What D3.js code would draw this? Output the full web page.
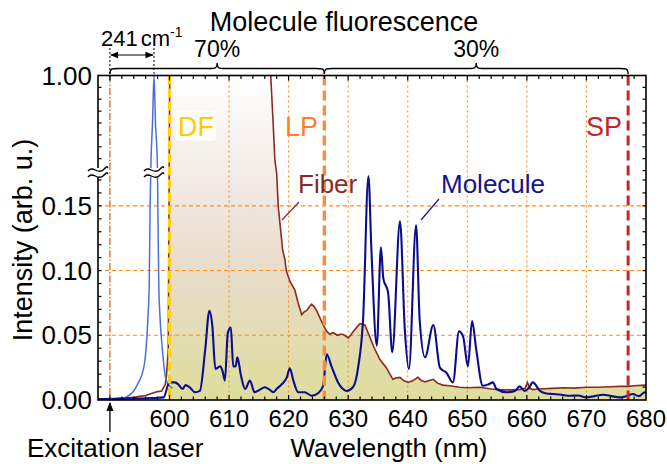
<!DOCTYPE html>
<html><head><meta charset="utf-8">
<script src="https://cdn.jsdelivr.net/npm/d3@7"></script>
<style>body{margin:0;background:#fff}svg{display:block;font-family:"Liberation Sans",Arial,sans-serif}</style>
</head><body><svg id="c" width="667" height="464"></svg>
<script>
// ---------- data ----------
const xTicks = [600, 610, 620, 630, 640, 650, 660, 670, 680];
const yTicks = [0, 0.05, 0.10, 0.15, 1.00];
const yTickLabels = ["0.00", "0.05", "0.10", "0.15", "1.00"];
const gridX = [610, 620, 630, 640, 650, 660, 670];
const gridY = [0.05, 0.10, 0.15];
const excitationWl = 590;
const laserPeakWl = 597.4;
const filterDF = 600, filterLP = 626, filterSP = 677;

const laserWl = [588, 590, 592, 593, 594, 594.8, 595.4, 595.9, 596.2, 596.4, 596.6, 596.75, 596.9, 597.15, 597.4, 597.65, 597.95, 598.05, 598.2, 598.4, 598.7, 598.95, 599.4, 600, 600.5];
const laserI  = [0, 0, 0.001, 0.003, 0.007, 0.0136, 0.02, 0.0315, 0.048, 0.065, 0.09, 0.15, 0.285, 0.6, 1.0, 0.6, 0.285, 0.15, 0.09, 0.065, 0.045, 0.0315, 0.016, 0.011, 0.009];

const fiberWl = [588, 590, 592, 594, 595, 596, 597, 598, 598.7, 599.3, 599.5, 599.8, 599.95, 600.1, 616.8, 617.0, 617.4, 617.7, 618.0, 618.25, 618.8, 619.0, 619.4, 619.6, 620.2, 621.05, 621.6, 622.2, 622.6, 623.0, 623.5, 623.86, 624.3, 624.7, 625.2, 625.8, 626.4, 626.9, 627.5, 628.2, 628.9, 629.4, 630.0, 630.4, 630.8, 631.4, 632.0, 632.8, 633.6, 634.4, 635.3, 636.4, 637.0, 637.5, 638.0, 638.7, 639.3, 640.1, 640.9, 641.7, 642.3, 642.9, 643.6, 644.3, 645.0, 645.9, 647.0, 648.7, 650, 652.1, 654, 655.4, 657, 658.8, 659.7, 660.1, 660.5, 661, 662, 664.3, 666, 668, 670, 672, 674, 675.6, 677, 678, 679.8, 680];
const fiberI  = [0.0005, 0.0008, 0.0015, 0.002, 0.0028, 0.0035, 0.005, 0.0065, 0.007, 0.012, 0.019, 0.039, 0.2, 1.5, 1.5, 1.0, 0.6, 0.285, 0.175, 0.15, 0.125, 0.116, 0.108, 0.10, 0.092, 0.085, 0.075, 0.066, 0.068, 0.069, 0.072, 0.074, 0.072, 0.069, 0.064, 0.058, 0.053, 0.051, 0.052, 0.050, 0.051, 0.05, 0.048, 0.050, 0.0525, 0.056, 0.059, 0.058, 0.049, 0.040, 0.0315, 0.025, 0.02, 0.016, 0.017, 0.0175, 0.015, 0.0136, 0.015, 0.0175, 0.015, 0.014, 0.015, 0.016, 0.013, 0.0115, 0.011, 0.0098, 0.0095, 0.0098, 0.0085, 0.008, 0.0078, 0.008, 0.009, 0.0136, 0.009, 0.008, 0.0085, 0.009, 0.0095, 0.0092, 0.0098, 0.0098, 0.0102, 0.0105, 0.0105, 0.011, 0.0115, 0.0115];

const molWl = [588, 592, 595, 597, 599, 600, 600.9, 601.5, 602.2, 602.7, 603.4, 604.3, 605.1, 606.0, 606.7, 607.2, 607.7, 608.5, 608.9, 609.3, 609.8, 610.3, 610.7, 611.1, 611.4, 612.0, 612.7, 613.5, 614.3, 615.2, 616.0, 616.8, 617.4, 618.1, 618.8, 619.7, 620.2, 620.8, 621.6, 622.7, 623.9, 625.0, 625.8, 626.4, 627.2, 628.3, 629.0, 629.7, 630.8, 631.7, 632.5, 633.4, 633.9, 634.8, 635.5, 635.9, 636.7, 637.4, 638.7, 639.5, 640.2, 641.4, 642.0, 642.9, 644.3, 645.4, 646.5, 647.6, 648.6, 649.3, 650.1, 650.8, 651.5, 652.6, 653.5, 654.3, 654.9, 656.6, 658.0, 658.8, 659.6, 660.3, 661.0, 662.2, 663.3, 664.4, 665.8, 667.2, 668.6, 670.0, 671.4, 672.8, 674.2, 675.6, 676.7, 677.8, 678.8, 679.8, 680];
const molI  = [0.0008, 0.001, 0.0012, 0.0015, 0.002, 0.0136, 0.0136, 0.012, 0.0085, 0.0115, 0.0098, 0.006, 0.007, 0.039, 0.069, 0.057, 0.024, 0.026, 0.0225, 0.015, 0.052, 0.056, 0.026, 0.026, 0.033, 0.019, 0.0085, 0.015, 0.006, 0.008, 0.0098, 0.008, 0.006, 0.009, 0.012, 0.0175, 0.0245, 0.015, 0.006, 0.006, 0.0033, 0.0054, 0.011, 0.0354, 0.026, 0.0136, 0.009, 0.007, 0.0098, 0.026, 0.062, 0.173, 0.116, 0.042, 0.118, 0.094, 0.083, 0.037, 0.138, 0.055, 0.024, 0.135, 0.062, 0.033, 0.058, 0.025, 0.021, 0.0136, 0.053, 0.049, 0.026, 0.061, 0.039, 0.011, 0.012, 0.0136, 0.0085, 0.006, 0.007, 0.0105, 0.007, 0.009, 0.0136, 0.007, 0.005, 0.0046, 0.004, 0.0033, 0.0035, 0.002, 0.003, 0.004, 0.003, 0.002, 0.003, 0.0046, 0.003, 0.006, 0.005];

// ---------- layout ----------
const svg = d3.select("#c");
const L = 98, R = 646, T = 75.5, B = 400;
const x = d3.scaleLinear().domain([588, 680]).range([L, R]);
const y = d3.scaleLinear().domain([0, 0.175, 1.0]).range([B, 173.5, T]);

const defs = svg.append("defs");
defs.append("clipPath").attr("id", "clip").append("rect")
  .attr("x", L).attr("y", T).attr("width", R - L).attr("height", B - T);
const grad = defs.append("linearGradient").attr("id", "fillg")
  .attr("gradientUnits", "userSpaceOnUse").attr("x1", 0).attr("x2", 0).attr("y1", T).attr("y2", B);
grad.append("stop").attr("offset", 0).attr("stop-color", "#ffffff");
grad.append("stop").attr("offset", 0.35).attr("stop-color", "#f1e8e4");
grad.append("stop").attr("offset", 0.62).attr("stop-color", "#e7dcc8");
grad.append("stop").attr("offset", 1).attr("stop-color", "#dedd9c");

const plot = svg.append("g").attr("clip-path", "url(#clip)");

const fiber = fiberWl.map((w, i) => [w, fiberI[i]]);
const laser = laserWl.map((w, i) => [w, laserI[i]]);
const mol = molWl.map((w, i) => [w, molI[i]]);

// fill under fiber from the DF edge
const fillData = [[filterDF, 1.5]].concat(fiber.filter(d => d[0] > filterDF));
plot.append("path").datum(fillData)
  .attr("d", d3.area().x(d => x(d[0])).y0(y(0)).y1(d => y(d[1])))
  .attr("fill", "url(#fillg)");

// grid
const orange = "#ff8c1a";
plot.selectAll(".gx").data(gridX).join("line")
  .attr("x1", d => x(d)).attr("x2", d => x(d)).attr("y1", T).attr("y2", B)
  .attr("stroke", orange).attr("stroke-width", 1.1).attr("stroke-dasharray", "2,3");
plot.selectAll(".gy").data(gridY).join("line")
  .attr("x1", L).attr("x2", R).attr("y1", d => y(d)).attr("y2", d => y(d))
  .attr("stroke", orange).attr("stroke-width", 1.1).attr("stroke-dasharray", "4,3");
plot.append("line").attr("x1", x(excitationWl)).attr("x2", x(excitationWl)).attr("y1", T).attr("y2", B)
  .attr("stroke", "#e4601c").attr("stroke-width", 1.3).attr("stroke-dasharray", "7,2,1.5,2");

const line = d3.line().x(d => x(d[0])).y(d => y(d[1]));
plot.append("path").datum(fiber).attr("d", line).attr("fill", "none")
  .attr("stroke", "#8b2a1f").attr("stroke-width", 1.6);
plot.append("path").datum(laser).attr("d", line.curve(d3.curveMonotoneX)).attr("fill", "none")
  .attr("stroke", "#4a70e0").attr("stroke-width", 1.5);
plot.append("path").datum(mol).attr("d", d3.line().x(d => x(d[0])).y(d => y(d[1])).curve(d3.curveMonotoneX)).attr("fill", "none")
  .attr("stroke", "#0c0c8c").attr("stroke-width", 2.1).attr("stroke-linejoin", "round");

// filter lines
plot.append("line").attr("x1", x(filterDF)).attr("x2", x(filterDF)).attr("y1", T).attr("y2", B)
  .attr("stroke", "#ffd200").attr("stroke-width", 3.2).attr("stroke-dasharray", "9,4");
plot.append("line").attr("x1", x(filterLP)).attr("x2", x(filterLP)).attr("y1", T).attr("y2", B)
  .attr("stroke", "#ff8a3d").attr("stroke-width", 3.4).attr("stroke-dasharray", "10,5");
plot.append("line").attr("x1", x(filterSP)).attr("x2", x(filterSP)).attr("y1", T).attr("y2", B)
  .attr("stroke", "#c1272d").attr("stroke-width", 3).attr("stroke-dasharray", "10,5");

// filter labels
svg.append("rect").attr("x", 176).attr("y", 111).attr("width", 40).attr("height", 30).attr("rx", 4).attr("fill", "#fff");
svg.append("text").attr("x", 178).attr("y", 136).attr("font-size", 27).attr("fill", "#ffcc00").text("DF");
svg.append("text").attr("x", 285).attr("y", 136).attr("font-size", 27).attr("fill", "#ff7f2a").text("LP");
svg.append("text").attr("x", 586).attr("y", 136).attr("font-size", 27).attr("fill", "#c1272d").text("SP");

// series labels
svg.append("text").attr("x", 298).attr("y", 193).attr("font-size", 26).attr("fill", "#8b2a22").text("Fiber");
svg.append("line").attr("x1", 299).attr("y1", 202).attr("x2", 282).attr("y2", 220).attr("stroke", "#8b2a22").attr("stroke-width", 1.2);
svg.append("text").attr("x", 441).attr("y", 193).attr("font-size", 26).attr("fill", "#14148c").text("Molecule");
svg.append("line").attr("x1", 439).attr("y1", 199).attr("x2", 421).attr("y2", 220).attr("stroke", "#14148c").attr("stroke-width", 1.2);

// frame
svg.append("rect").attr("x", L).attr("y", T).attr("width", R - L).attr("height", B - T)
  .attr("fill", "none").attr("stroke", "#000").attr("stroke-width", 1.6);

// ticks
const xMinor = d3.range(590, 680, 2);
const tk = svg.append("g").attr("stroke", "#000").attr("stroke-width", 1.2);
xMinor.forEach(v => {
  const len = (v % 10 === 0) ? 5 : 3.5;
  tk.append("line").attr("x1", x(v)).attr("x2", x(v)).attr("y1", B).attr("y2", B - len);
  tk.append("line").attr("x1", x(v)).attr("x2", x(v)).attr("y1", T).attr("y2", T + len);
});
const yMinor = d3.range(0.01, 0.171, 0.01).concat(d3.range(0.2, 0.95, 0.1));
yMinor.forEach(v => {
  tk.append("line").attr("x1", L).attr("x2", L + 3.5).attr("y1", y(v)).attr("y2", y(v));
  tk.append("line").attr("x1", R).attr("x2", R - 3.5).attr("y1", y(v)).attr("y2", y(v));
});

// tick labels
svg.selectAll(".xl").data(xTicks).join("text")
  .attr("x", d => x(d)).attr("y", 427).attr("text-anchor", "middle").attr("font-size", 24).text(d => d);
svg.selectAll(".yl").data(yTicks).join("text")
  .attr("x", 92).attr("y", d => y(d) + 9).attr("text-anchor", "end").attr("font-size", 26)
  .text((d, i) => yTickLabels[i]);

// axis titles
svg.append("text").attr("x", 389).attr("y", 457).attr("text-anchor", "middle").attr("font-size", 26).text("Wavelength (nm)");
svg.append("text").attr("transform", "translate(32,240) rotate(-90)").attr("text-anchor", "middle").attr("font-size", 27).text("Intensity (arb. u.)");
svg.append("text").attr("x", 27).attr("y", 457).attr("font-size", 26).text("Excitation laser");

// arrow for excitation laser
defs.append("marker").attr("id", "ah").attr("viewBox", "0 0 10 10").attr("refX", 9).attr("refY", 5)
  .attr("markerWidth", 7).attr("markerHeight", 7).attr("orient", "auto-start-reverse")
  .append("path").attr("d", "M0,1 L10,5 L0,9 z").attr("fill", "#000");
svg.append("line").attr("x1", x(excitationWl)).attr("x2", x(excitationWl)).attr("y1", 432).attr("y2", 403)
  .attr("stroke", "#000").attr("stroke-width", 1.3).attr("marker-end", "url(#ah)");

// break symbols
function breakMark(cx, cy) {
  const g = svg.append("g");
  g.append("rect").attr("x", cx - 10).attr("y", cy - 5).attr("width", 20).attr("height", 9).attr("fill", "#fff");
  [-3, 3].forEach(o => {
    g.append("path").attr("d", `M${cx - 10},${cy + o + 1} C${cx - 5},${cy + o - 5} ${cx},${cy + o + 5} ${cx + 5},${cy + o} S${cx + 9},${cy + o - 3} ${cx + 10},${cy + o - 2}`)
      .attr("fill", "none").attr("stroke", "#000").attr("stroke-width", 1.3);
  });
}
breakMark(L, 173);
breakMark(x(laserPeakWl), 173);

// top annotations
svg.append("text").attr("x", 344).attr("y", 31).attr("text-anchor", "middle").attr("font-size", 27).text("Molecule fluorescence");
function brace(x1, x2, yb, h) {
  const m = (x1 + x2) / 2, q = 8;
  const ym = yb - h / 2;
  return `M${x1},${yb} C${x1},${ym} ${x1 + 2},${ym} ${x1 + q},${ym} L${m - q},${ym} C${m - 2},${ym} ${m},${ym} ${m},${yb - h} ` +
         `C${m},${ym} ${m + 2},${ym} ${m + q},${ym} L${x2 - q},${ym} C${x2 - 2},${ym} ${x2},${ym} ${x2},${yb}`;
}
svg.append("path").attr("d", brace(x(excitationWl), x(filterLP), 74, 11)).attr("fill", "none").attr("stroke", "#000").attr("stroke-width", 1.3);
svg.append("path").attr("d", brace(x(filterLP), x(filterSP), 74, 11)).attr("fill", "none").attr("stroke", "#000").attr("stroke-width", 1.3);
svg.append("text").attr("x", (x(excitationWl) + x(filterLP)) / 2).attr("y", 57).attr("text-anchor", "middle").attr("font-size", 23).text("70%");
svg.append("text").attr("x", (x(filterLP) + x(filterSP)) / 2).attr("y", 57).attr("text-anchor", "middle").attr("font-size", 23).text("30%");

// 241 cm-1 annotation
[excitationWl, laserPeakWl].forEach(w => {
  svg.append("line").attr("x1", x(w)).attr("x2", x(w)).attr("y1", 48).attr("y2", T)
    .attr("stroke", "#000").attr("stroke-width", 1).attr("stroke-dasharray", "2,2");
});
svg.append("line").attr("x1", x(excitationWl) + 1).attr("x2", x(laserPeakWl) - 1).attr("y1", 55).attr("y2", 55)
  .attr("stroke", "#000").attr("stroke-width", 1.2).attr("marker-start", "url(#ah)").attr("marker-end", "url(#ah)");
const t241 = svg.append("text").attr("x", 101).attr("y", 46).attr("font-size", 22);
t241.append("tspan").text("241");
t241.append("tspan").attr("dx", 3).text("cm");
t241.append("tspan").attr("dy", -9).attr("font-size", 14).text("-1");
</script></body></html>
